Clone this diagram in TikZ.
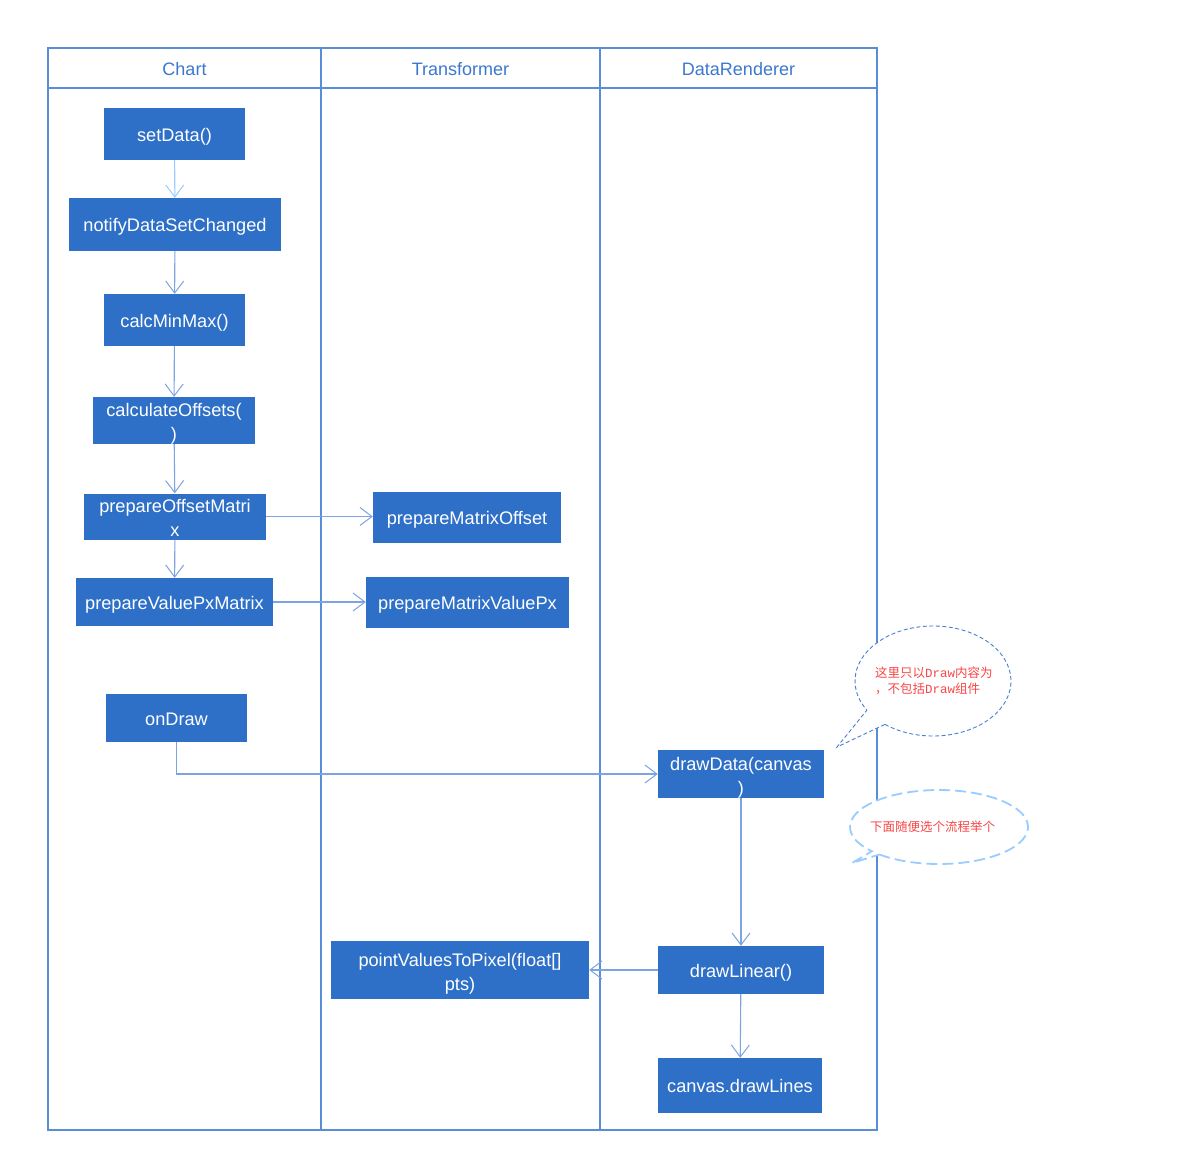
\documentclass[tikz,border=0pt]{standalone}
\usepackage{fontspec}
\setmainfont{Liberation Sans}
\newfontfamily\cjk{Noto Sans CJK SC}
\newfontfamily\monof{Liberation Mono}
\usetikzlibrary{arrows.meta}
\definecolor{boxblue}{RGB}{46,112,200}
\definecolor{lanecol}{RGB}{90,141,216}
\definecolor{headtxt}{RGB}{60,120,208}
\definecolor{arrcol}{RGB}{125,164,226}
\definecolor{lightarr}{RGB}{153,204,255}
\definecolor{calloutred}{RGB}{250,70,70}
\definecolor{callout1}{RGB}{74,127,208}
\tikzset{
  stepbox/.style={draw=none, fill=boxblue, text=white, inner sep=0pt, align=center,
    text height=17pt, text depth=3pt,
    font=\fontsize{18.2}{24}\selectfont},
  twoline/.style={text height=43pt, text depth=3pt},
  lanehead/.style={text=headtxt, font=\fontsize{18}{22}\selectfont},
  flow/.style={draw=arrcol, line width=1.1pt, -{Straight Barb[length=12pt,width=18pt,line width=1pt]}},
  lightflow/.style={flow, draw=lightarr},
  laneline/.style={draw=lanecol, line width=1.1pt},
  ctext/.style={text=calloutred, font=\cjk\fontsize{12.5}{16}\selectfont, inner sep=0pt}
}
\begin{document}
\begin{tikzpicture}[x=1pt,y=1pt]
\useasboundingbox[fill=white] (0,0) rectangle (1196,-1162);
% pool
\draw[laneline] (48,-48) rectangle (877,-1130);
\draw[laneline] (48,-88) -- (877,-88);
\draw[laneline] (321,-48) -- (321,-1130);
\draw[laneline] (600,-48) -- (600,-1130);
\node[lanehead] (h1) at (184.5,-69) {Chart};
\node[lanehead] (h2) at (460.5,-69) {Transformer};
\node[lanehead] (h3) at (738.5,-69) {DataRenderer};
% boxes
\node[stepbox, minimum width=141pt, minimum height=52pt] (setData) at (174.5,-134) {setData()};
\node[stepbox, minimum width=212pt, minimum height=53pt] (notify) at (175,-224.5) {notifyDataSetChanged};
\node[stepbox, minimum width=141pt, minimum height=52pt] (calc) at (174.5,-320) {calcMinMax()};
\node[stepbox, twoline, minimum width=162pt, minimum height=47pt] (offs) at (174,-420.5) {calculateOffsets(\\)};
\node[stepbox, twoline, minimum width=182pt, minimum height=45pt] (pom) at (175,-516.5) {prepareOffsetMatri\\x};
\node[stepbox, minimum width=197pt, minimum height=48pt] (pvm) at (174.5,-602) {prepareValuePxMatrix};
\node[stepbox, minimum width=141pt, minimum height=48pt] (onDraw) at (176.5,-718) {onDraw};
\node[stepbox, minimum width=188pt, minimum height=51pt] (pmo) at (467,-517.5) {prepareMatrixOffset};
\node[stepbox, minimum width=203pt, minimum height=51pt] (pmv) at (467.5,-602.5) {prepareMatrixValuePx};
\node[stepbox, twoline, minimum width=166pt, minimum height=48pt] (drawData) at (741,-774) {drawData(canvas\\)};
\node[stepbox, minimum width=166pt, minimum height=48pt] (drawLinear) at (741,-970) {drawLinear()};
\node[stepbox, minimum width=164pt, minimum height=55pt] (drawLines) at (740,-1085.5) {canvas.drawLines};
\node[stepbox, twoline, minimum width=258pt, minimum height=58pt] (pv) at (460,-970) {pointValuesToPixel(float[]\\pts)};
% connectors
\draw[lightflow] (setData) -- (notify);
\draw[flow] (notify) -- (calc);
\draw[flow] (calc) -- (offs);
\draw[flow] (offs) -- (pom);
\draw[flow] (pom) -- (pvm);
\draw[flow] (pom.east) -- (pom.east -| pmo.west);
\draw[flow] (pvm.east) -- (pvm.east -| pmv.west);
\draw[flow] (onDraw.south) |- (drawData.west);
\draw[flow] (drawData) -- (drawLinear);
\draw[flow] (drawLinear.west) -- (pv.east);
\draw[flow] (drawLinear) -- (drawLines);
% callout 1
\draw[draw=callout1, fill=white, line width=0.9pt, dash pattern=on 4pt off 2.5pt]
  (933,-681) ++(232:78pt and 55pt) arc[start angle=232, end angle=572, x radius=78pt, y radius=55pt]
  -- (837,-747) -- cycle;
\node[ctext, anchor=west, align=left] (c1) at (875,-681) {这里只以{\monof Draw}内容为\\，不包括{\monof Draw}组件};
% callout 2
\draw[draw=lightarr, fill=white, line width=1.8pt, dash pattern=on 11pt off 5pt]
  (939,-827) ++(228:89pt and 37pt) arc[start angle=228, end angle=581, x radius=89pt, y radius=37pt]
  -- (852,-863) -- cycle;
\node[ctext] (c2) at (932.5,-827) {下面随便选个流程举个};
\end{tikzpicture}
\end{document}
